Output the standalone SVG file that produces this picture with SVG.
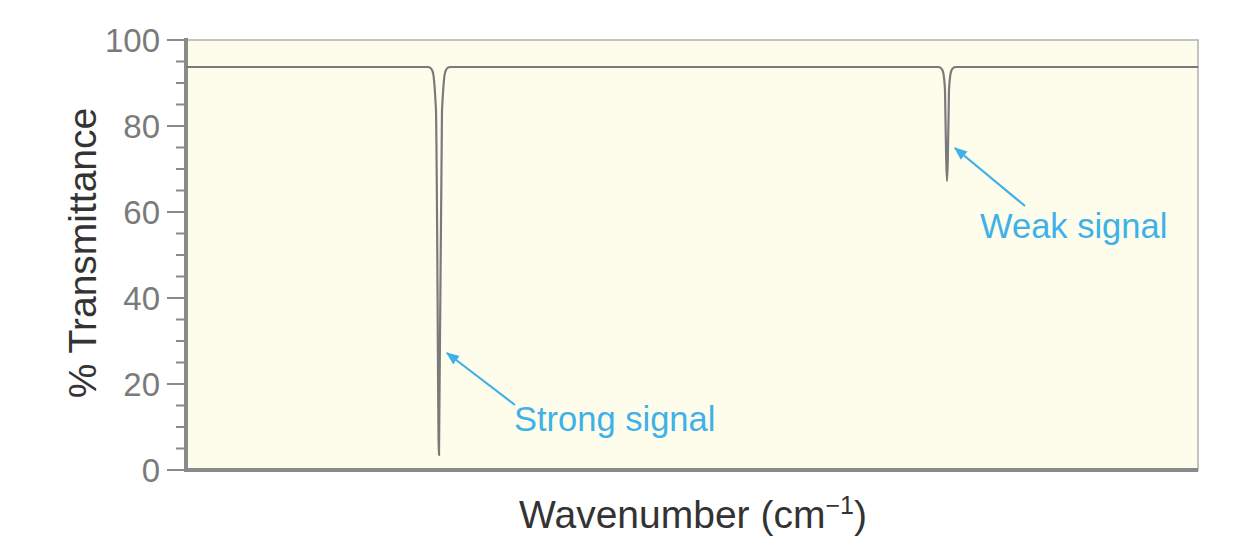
<svg xmlns="http://www.w3.org/2000/svg" width="1236" height="552" viewBox="0 0 1236 552">
<style>
.tk{font-family:"Liberation Sans",Arial,sans-serif;font-size:33px;fill:#7a7a7a;text-anchor:end}
.lb{font-family:"Liberation Sans",Arial,sans-serif;font-size:34.5px;fill:#3eb1e8}
.ax{font-family:"Liberation Sans",Arial,sans-serif;font-size:39px;fill:#333}
.t{stroke:#8a8a8a;stroke-width:2}
</style>
<defs><marker id="ah" viewBox="0 0 10 10" refX="9" refY="5" markerWidth="6" markerHeight="6" orient="auto"><path d="M0,1 L10,5 L0,9 z" fill="#3eb1e8"/></marker></defs>
<rect x="186" y="40" width="1012" height="430" fill="#fefdec" stroke="#b0b0b0" stroke-width="1.5"/>
<g id="ticks">
<path class="t" d="M167,40H186M167,126H186M167,212H186M167,298H186M167,384H186M167,470H186"/>
<path class="t" d="M176,61.5H186M176,83H186M176,104.5H186M176,147.5H186M176,169H186M176,190.5H186M176,233.5H186M176,255H186M176,276.5H186M176,319.5H186M176,341H186M176,362.5H186M176,405.5H186M176,427H186M176,448.5H186"/>
</g>
<path d="M186,38V472M184,470H1198" stroke="#8a8a8a" stroke-width="4" fill="none"/>
<g id="labels">
<text class="tk" x="160" y="52">100</text><text class="tk" x="160" y="138">80</text><text class="tk" x="160" y="224">60</text><text class="tk" x="160" y="310">40</text><text class="tk" x="160" y="396">20</text><text class="tk" x="160" y="482">0</text>
<text class="ax" transform="translate(96,253) rotate(-90)" text-anchor="middle">% Transmittance</text>
<text class="ax" x="693" y="528" text-anchor="middle">Wavenumber (cm<tspan dy="-14" font-size="25">−1</tspan><tspan dy="14">)</tspan></text>
</g>
<path id="spectrum" d="M186,67H428C434,67 434,75 436,110C437.5,200 438,455 439,455C440,455 440.5,200 442,110C444,75 444,67 450,67H938C943,67 944,72 945,90C946,150 946.5,181 947,181C947.5,181 948,150 949,90C950,72 951,67 956,67H1198" fill="none" stroke="#7a7a7a" stroke-width="2.2"/>
<g id="connectors">
<line x1="515" y1="405" x2="447" y2="353" stroke="#3eb1e8" stroke-width="2.2" marker-end="url(#ah)"/>
<line x1="1025" y1="206" x2="955" y2="148" stroke="#3eb1e8" stroke-width="2.2" marker-end="url(#ah)"/>
</g>
<g id="strong"><text class="lb" x="514" y="431">Strong signal</text></g>
<g id="weak"><text class="lb" x="980" y="238">Weak signal</text></g>
</svg>
